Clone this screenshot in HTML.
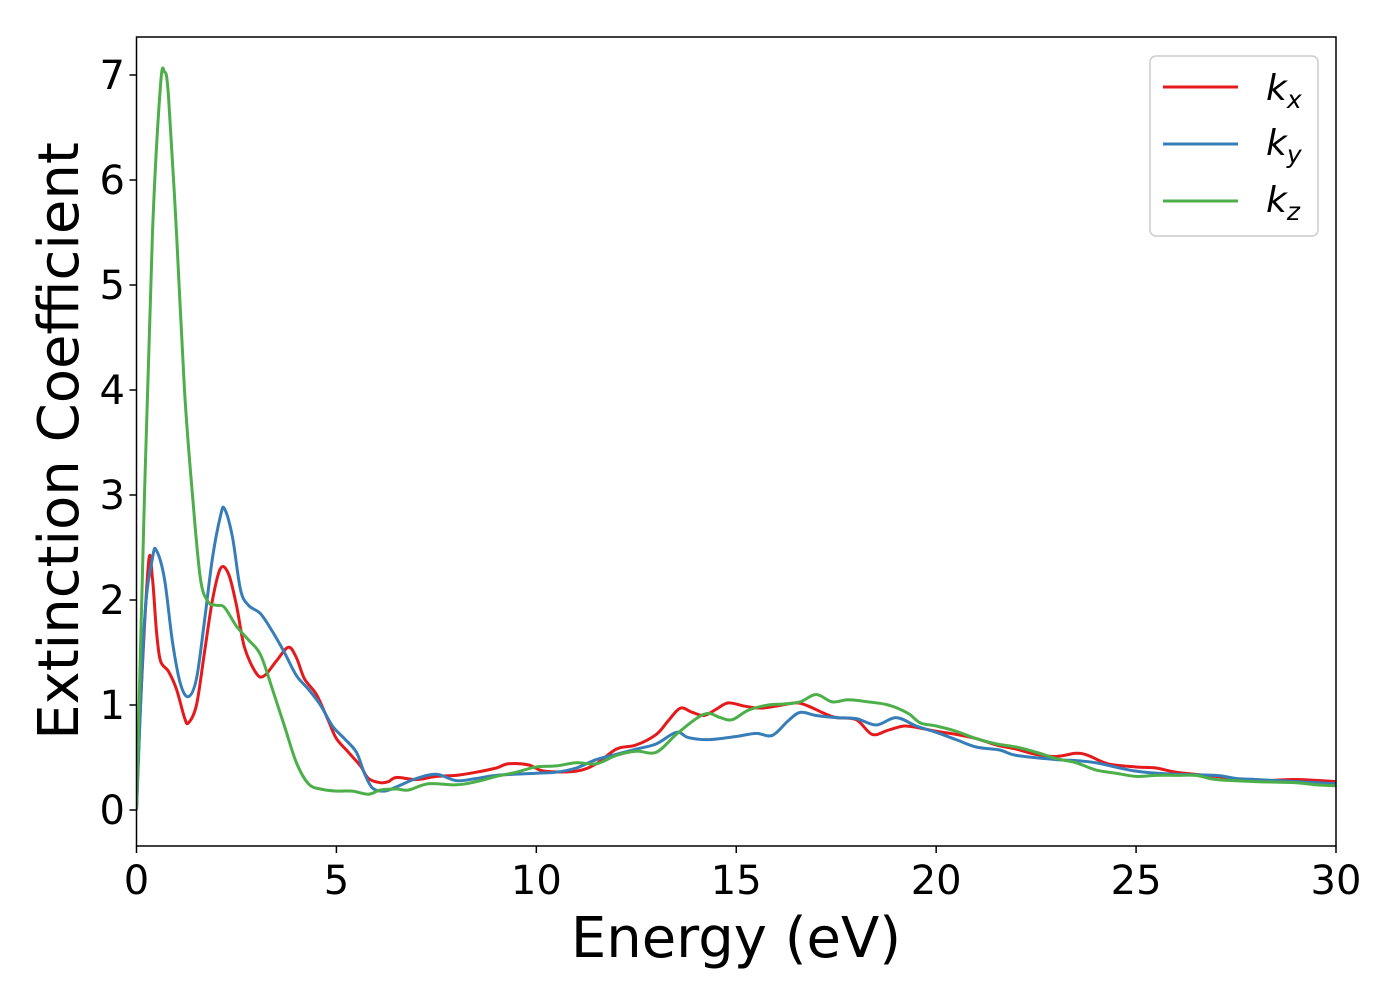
<!DOCTYPE html>
<html><head><meta charset="utf-8"><style>
html,body{margin:0;padding:0;background:#fff;}
svg text{font-family:"DejaVu Sans","Liberation Sans",sans-serif;fill:#000;}
</style></head><body>
<svg id="chart" width="1400" height="1000" viewBox="0 0 1400 1000" xmlns="http://www.w3.org/2000/svg">
<rect x="0" y="0" width="1400" height="1000" fill="#fff"/>
<g id="plot"></g>
<g id="axes"></g>
<text x="736" y="957" font-size="56" text-anchor="middle">Energy (eV)</text>
<text transform="translate(78,441) rotate(-90)" font-size="56" text-anchor="middle">Extinction Coefficient</text>
<g>
<rect x="1150" y="56" width="168" height="180" rx="6" fill="#fff" stroke="#ccc" stroke-width="1.5"/>
<line x1="1163" y1="87" x2="1238" y2="87" stroke="#e41a1c" stroke-width="3"/>
<text x="1266" y="100" font-size="36" font-style="italic">k<tspan font-size="25" dy="8">x</tspan></text>
<line x1="1163" y1="144" x2="1238" y2="144" stroke="#377eb8" stroke-width="3"/>
<text x="1266" y="155" font-size="36" font-style="italic">k<tspan font-size="25" dy="8">y</tspan></text>
<line x1="1163" y1="201" x2="1238" y2="201" stroke="#4daf4a" stroke-width="3"/>
<text x="1266" y="212" font-size="36" font-style="italic">k<tspan font-size="25" dy="8">z</tspan></text>
</g>
</svg>
<script>
const xTicks=[0,5,10,15,20,25,30];
const yTicks=[0,1,2,3,4,5,6,7];
const kxE=[0,0.1,0.3,0.4,0.5,0.6,0.8,1.0,1.2,1.3,1.5,1.7,1.9,2.1,2.3,2.5,2.7,3.0,3.2,3.5,3.8,4.0,4.2,4.5,4.8,5.0,5.3,5.6,5.8,6.1,6.3,6.5,7,7.5,8,8.5,9,9.3,9.8,10.2,11,11.5,12,12.5,13,13.3,13.6,13.9,14.2,14.5,14.8,15.2,15.6,16,16.5,16.8,17.2,17.5,18,18.4,18.8,19.2,19.6,20,20.5,21,21.5,22,22.5,23,23.5,23.8,24.3,25,25.5,26,27,28,29,30];
const kxV=[0,1.0,2.35,2.2,1.7,1.42,1.32,1.15,0.88,0.83,1.0,1.5,2.0,2.3,2.25,1.95,1.55,1.3,1.28,1.42,1.55,1.45,1.25,1.1,0.85,0.68,0.55,0.42,0.3,0.26,0.27,0.31,0.29,0.32,0.33,0.36,0.4,0.44,0.43,0.37,0.37,0.44,0.58,0.62,0.72,0.85,0.97,0.93,0.9,0.96,1.02,0.99,0.97,0.99,1.02,0.99,0.92,0.88,0.86,0.72,0.76,0.8,0.78,0.75,0.72,0.68,0.62,0.58,0.53,0.51,0.54,0.52,0.44,0.41,0.4,0.36,0.32,0.28,0.29,0.27];
const kyE=[0,0.2,0.4,0.5,0.7,0.9,1.1,1.3,1.5,1.7,1.9,2.1,2.2,2.4,2.6,2.8,3.1,3.4,3.7,4.0,4.3,4.6,4.9,5.2,5.5,5.7,5.9,6.2,6.5,7,7.5,8,8.5,9,10,10.5,11,11.5,12,12.5,13,13.5,13.8,14.3,15,15.5,15.9,16.3,16.6,17,17.5,18,18.5,19,19.5,20,20.5,21,21.6,22,23,23.5,24,25,26,27,27.5,28,29,30];
const kyV=[0,1.8,2.4,2.47,2.2,1.6,1.2,1.08,1.25,1.8,2.4,2.8,2.87,2.6,2.1,1.95,1.87,1.7,1.5,1.28,1.15,1.0,0.8,0.68,0.55,0.35,0.21,0.18,0.22,0.3,0.34,0.28,0.3,0.33,0.35,0.36,0.4,0.48,0.53,0.58,0.63,0.74,0.69,0.67,0.7,0.73,0.71,0.85,0.93,0.9,0.88,0.87,0.81,0.88,0.8,0.74,0.67,0.6,0.57,0.52,0.48,0.47,0.45,0.37,0.34,0.33,0.3,0.29,0.27,0.25];
const kzE=[0,0.2,0.4,0.6,0.7,0.8,1.0,1.2,1.4,1.6,1.8,2.0,2.2,2.5,2.8,3.1,3.4,3.7,4.0,4.3,4.6,5.0,5.4,5.8,6.1,6.5,6.8,7.3,8,8.5,9,9.5,10,10.5,11,11.5,12,12.5,13,13.5,14,14.3,14.6,14.9,15.3,15.8,16.2,16.6,17,17.4,17.8,18.3,18.8,19.3,19.6,20,20.5,21,21.5,22,22.5,23,23.5,24,24.5,25,25.5,26,26.5,27,28,29,29.5,30];
const kzV=[0,3.0,5.5,6.9,7.03,6.8,5.5,4.0,3.0,2.2,1.98,1.95,1.93,1.75,1.62,1.48,1.15,0.8,0.45,0.25,0.2,0.18,0.18,0.15,0.19,0.2,0.19,0.25,0.24,0.27,0.32,0.36,0.41,0.42,0.45,0.44,0.52,0.56,0.55,0.72,0.87,0.92,0.88,0.86,0.95,1.0,1.01,1.03,1.1,1.03,1.05,1.03,1.0,0.92,0.83,0.8,0.75,0.68,0.63,0.6,0.55,0.49,0.45,0.38,0.35,0.32,0.33,0.33,0.33,0.29,0.27,0.26,0.24,0.23];

const X0=136.5,X1=1336,Y0px=810,PPU=105,TOP=37,BOT=846;
function sx(v){return X0+(v-0)/(30-0)*(X1-X0);}
function sy(v){return Y0px-v*PPU;}
const NS='http://www.w3.org/2000/svg';
function mk(t,a){const e=document.createElementNS(NS,t);for(const k in a)e.setAttribute(k,a[k]);return e;}
function pathFor(E,V){
  const p=E.map((e,i)=>[sx(e),sy(V[i])]);
  let d='M'+p[0][0]+','+p[0][1];
  for(let i=0;i<p.length-1;i++){
    const p0=p[Math.max(0,i-1)],p1=p[i],p2=p[i+1],p3=p[Math.min(p.length-1,i+2)];
    const c1x=p1[0]+(p2[0]-p0[0])/6,c1y=p1[1]+(p2[1]-p0[1])/6;
    const c2x=p2[0]-(p3[0]-p1[0])/6,c2y=p2[1]-(p3[1]-p1[1])/6;
    d+=' C'+c1x+','+c1y+' '+c2x+','+c2y+' '+p2[0]+','+p2[1];
  }
  return d;
}
const plot=document.getElementById('plot');
const clip=mk('clipPath',{id:'clp'});clip.appendChild(mk('rect',{x:X0,y:TOP,width:X1-X0,height:BOT-TOP}));
document.getElementById('chart').appendChild(clip);
plot.setAttribute('clip-path','url(#clp)');
const series=[['kx',kxE,kxV,'#e41a1c'],['ky',kyE,kyV,'#377eb8'],['kz',kzE,kzV,'#4daf4a']];
series.forEach(s=>{
  const el=mk('path',{d:pathFor(s[1],s[2]),fill:'none',stroke:s[3],'stroke-width':3,'stroke-linejoin':'round'});
  
  
  plot.appendChild(el);
});
const axes=document.getElementById('axes');
const frame=mk('rect',{x:X0,y:TOP,width:X1-X0,height:BOT-TOP,fill:'none',stroke:'#000','stroke-width':1.5});


axes.appendChild(frame);
xTicks.forEach(t=>{
  const x=sx(t);
  axes.appendChild(mk('line',{x1:x,y1:BOT,x2:x,y2:BOT+7,stroke:'#000','stroke-width':1.5}));
  const tx=mk('text',{x:x,y:894,'font-size':40,'text-anchor':'middle'});tx.textContent=t;
  
  
  axes.appendChild(tx);
});
yTicks.forEach(t=>{
  const y=sy(t);
  axes.appendChild(mk('line',{x1:X0-7,y1:y,x2:X0,y2:y,stroke:'#000','stroke-width':1.5}));
  const tx=mk('text',{x:125,y:y+14,'font-size':40,'text-anchor':'end'});tx.textContent=t;
  
  
  axes.appendChild(tx);
});
</script>
</body></html>
